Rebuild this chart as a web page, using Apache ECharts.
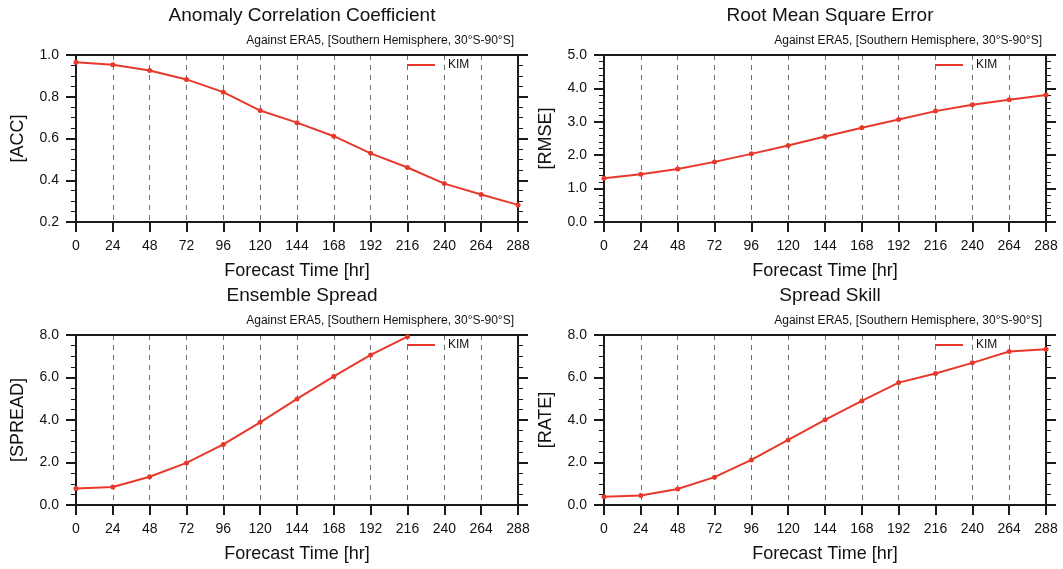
<!DOCTYPE html>
<html>
<head>
<meta charset="utf-8">
<script src="https://cdn.jsdelivr.net/npm/echarts@6/dist/echarts.min.js"></script>
<style>
html,body{margin:0;padding:0;background:#fff;}
#c{width:1063px;height:569px;}
</style>
</head>
<body>
<div id="c"></div>
<script>
// ---- data ----
const hours = [0, 24, 48, 72, 96, 120, 144, 168, 192, 216, 240, 264, 288];
const accValues = [0.965, 0.953, 0.926, 0.883, 0.822, 0.734, 0.676, 0.611, 0.529, 0.461, 0.384, 0.332, 0.282];
const rmseValues = [1.31, 1.43, 1.59, 1.80, 2.04, 2.29, 2.56, 2.82, 3.07, 3.32, 3.51, 3.66, 3.80];
const spreadValues = [0.78, 0.85, 1.33, 1.98, 2.85, 3.89, 4.99, 6.05, 7.06, 7.92, null, null, null];
const rateValues = [0.39, 0.45, 0.75, 1.31, 2.12, 3.06, 4.01, 4.90, 5.76, 6.19, 6.69, 7.22, 7.33];
const panelTitles = ['Anomaly Correlation Coefficient', 'Root Mean Square Error', 'Ensemble Spread', 'Spread Skill'];
const yNames = ['[ACC]', '[RMSE]', '[SPREAD]', '[RATE]'];
const subtitle = 'Against ERA5, [Southern Hemisphere, 30\u00B0S-90\u00B0S]';
const seriesName = 'KIM';
const yRanges = [[0.2, 1.0, 0.2, 4], [0, 5, 1, 5], [0, 8, 2, 4], [0, 8, 2, 4]];

const FONT = '"Liberation Sans", Arial, Helvetica, sans-serif';
const RED = '#e8382b';
const AXIS = '#1a1a1a';

const grids = [
  {left: 76, top: 55, width: 442, height: 167},
  {left: 604, top: 55, width: 442, height: 167},
  {left: 76, top: 335, width: 442, height: 170},
  {left: 604, top: 335, width: 442, height: 170}
];
const allValues = [accValues, rmseValues, spreadValues, rateValues];

const option = {
  backgroundColor: '#fff',
  animation: false,
  textStyle: {fontFamily: FONT},
  grid: grids.map(g => Object.assign({containLabel: false}, g)),
  title: [],
  legend: [],
  xAxis: [],
  yAxis: [],
  series: []
};

grids.forEach((g, i) => {
  const cx = g.left + g.width / 2;
  option.title.push({
    text: panelTitles[i], left: cx, top: g.top - 54, textAlign: 'center',
    textStyle: {fontFamily: FONT, fontSize: 19, fontWeight: 'normal', color: '#111'}
  });
  option.title.push({
    text: subtitle, right: 1063 - (g.left + g.width) - 1, top: g.top - 25,
    textStyle: {fontFamily: FONT, fontSize: 12, fontWeight: 'normal', color: '#111'}
  });
  option.legend.push({
    data: [{name: seriesName, icon: 'rect'}],
    left: g.left + 326, top: g.top - 1,
    itemWidth: 28, itemHeight: 2,
    textStyle: {fontFamily: FONT, fontSize: 12, color: '#111', padding: [0, 0, 0, 8]},
    itemStyle: {color: RED}
  });
  // bottom x axis
  option.xAxis.push({
    type: 'value', gridIndex: i, min: 0, max: 288, interval: 24, position: 'bottom',
    name: 'Forecast Time [hr]', nameLocation: 'middle', nameGap: 40,
    nameTextStyle: {fontFamily: FONT, fontSize: 18, color: '#111'},
    axisLine: {show: true, onZero: false, lineStyle: {color: AXIS, width: 2}},
    axisTick: {show: true, inside: false, length: 10, lineStyle: {color: AXIS, width: 2}},
    axisLabel: {fontFamily: FONT, fontSize: 14, color: '#111', margin: 17},
    splitLine: {show: true, lineStyle: {color: '#6f6f6f', width: 1, type: [5, 5]}}
  });
  // top border axis
  option.xAxis.push({
    type: 'value', gridIndex: i, min: 0, max: 288, interval: 24, position: 'top',
    axisLine: {show: true, onZero: false, lineStyle: {color: AXIS, width: 2}},
    axisTick: {show: false}, axisLabel: {show: false}, splitLine: {show: false}
  });
  const r = yRanges[i];
  // left y axis
  option.yAxis.push({
    type: 'value', gridIndex: i, min: r[0], max: r[1], interval: r[2], position: 'left',
    name: yNames[i], nameLocation: 'middle', nameGap: 49, nameRotate: 90,
    nameTextStyle: {fontFamily: FONT, fontSize: 18, color: '#111'},
    axisLine: {show: true, onZero: false, lineStyle: {color: AXIS, width: 2}},
    axisTick: {show: true, inside: false, length: 10, lineStyle: {color: AXIS, width: 2}},
    minorTick: {show: true, splitNumber: r[3], length: 5, lineStyle: {color: AXIS, width: 1}},
    axisLabel: {fontFamily: FONT, fontSize: 14, color: '#111', margin: 17,
      formatter: v => v.toFixed(1)},
    splitLine: {show: false}
  });
  // right y axis (mirror)
  option.yAxis.push({
    type: 'value', gridIndex: i, min: r[0], max: r[1], interval: r[2], position: 'right',
    axisLine: {show: true, onZero: false, lineStyle: {color: AXIS, width: 2}},
    axisTick: {show: true, inside: false, length: 10, lineStyle: {color: AXIS, width: 2}},
    minorTick: {show: true, splitNumber: r[3], length: 5, lineStyle: {color: AXIS, width: 1}},
    axisLabel: {show: false},
    splitLine: {show: false}
  });
  option.series.push({
    name: seriesName, type: 'line',
    xAxisIndex: i * 2, yAxisIndex: i * 2,
    data: hours.map((h, k) => [h, allValues[i][k]]),
    symbol: 'circle', symbolSize: 5, showSymbol: true,
    clip: true,
    lineStyle: {color: RED, width: 2},
    itemStyle: {color: RED},
    z: 5
  });
});

const chart = echarts.init(document.getElementById('c'), null, {renderer: 'canvas'});
chart.setOption(option);
</script>
</body>
</html>
